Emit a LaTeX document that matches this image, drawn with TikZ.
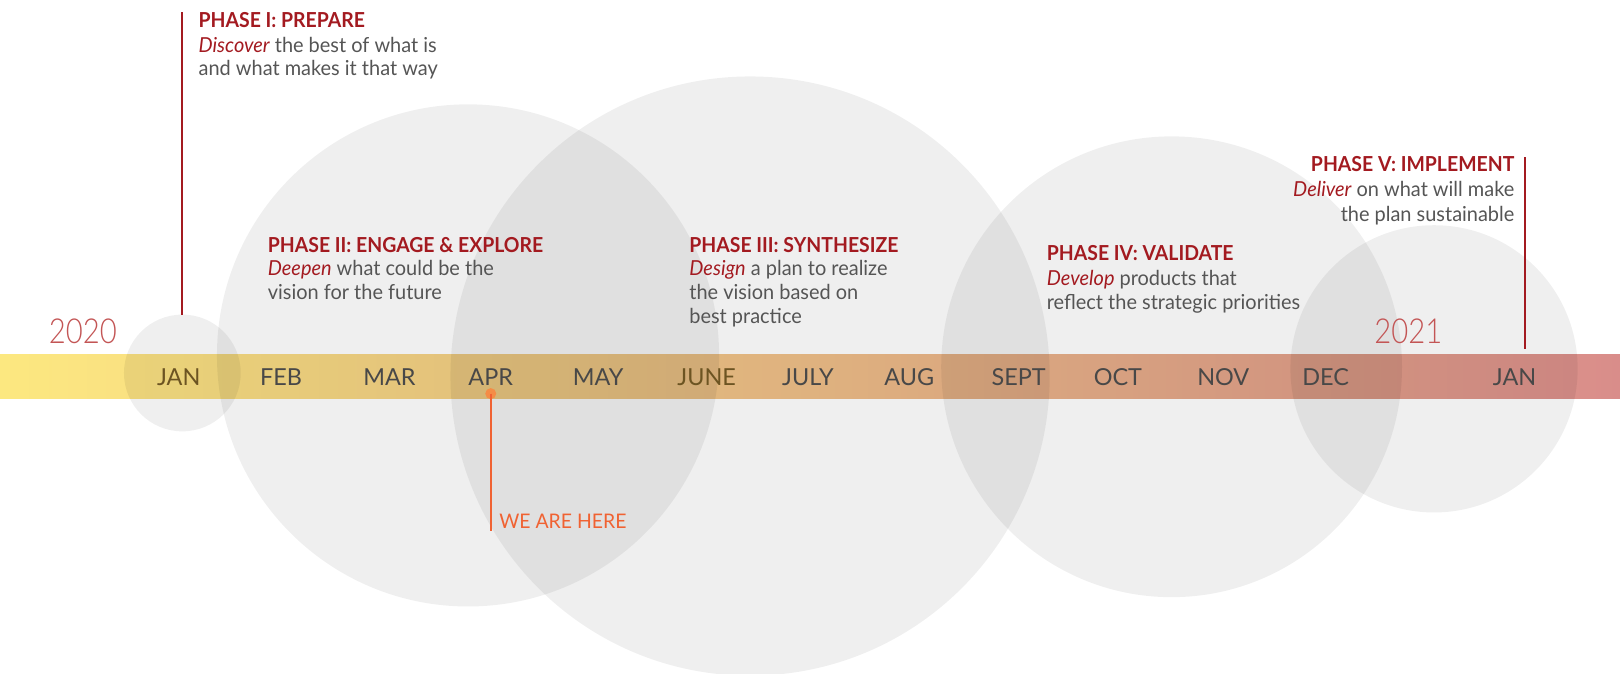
\documentclass[tikz,border=0pt]{standalone}
\usepackage{fontspec}
\setmainfont{Lato}[FakeStretch=0.965]
\newfontfamily\headf{Lato}[FakeStretch=0.94]
\newfontfamily\lightf{Lato Light}[FakeStretch=0.85]
\newfontfamily\monthf{Lato}
\definecolor{phred}{RGB}{163,26,32}
\definecolor{bodygray}{RGB}{85,85,85}
\definecolor{monthgray}{RGB}{72,72,72}
\definecolor{monthbrown}{RGB}{108,84,34}
\definecolor{yearred}{RGB}{195,85,85}
\definecolor{herered}{RGB}{240,98,50}
\definecolor{heredot}{RGB}{245,140,70}
\definecolor{bandA}{RGB}{252,232,128}
\definecolor{bandB}{RGB}{238,190,136}
\definecolor{bandC}{RGB}{217,141,138}
\pgfdeclarehorizontalshading{bandshade}{100bp}{color(0bp)=(bandA); color(25bp)=(bandA); color(50bp)=(bandB); color(75bp)=(bandC); color(100bp)=(bandC)}
\begin{document}
\begin{tikzpicture}[x=0.75pt,y=-0.75pt,
  bubble/.style={fill=black,fill opacity=0.063,draw=none},
  head/.style={anchor=base west,inner sep=0pt,font=\headf\fontsize{15}{18}\selectfont\bfseries,text=phred},
  bodytext/.style={anchor=base west,inner sep=0pt,font=\fontsize{15}{18}\selectfont,text=bodygray},
  headR/.style={head,anchor=base east},
  bodyR/.style={bodytext,anchor=base east},
  month/.style={anchor=base,inner sep=0pt,font=\monthf\fontsize{17}{19}\selectfont,text=monthgray},
  year/.style={anchor=base west,inner sep=0pt,font=\lightf\fontsize{25}{28}\selectfont,text=yearred},
  phline/.style={draw=phred,line width=1.3pt}]
\useasboundingbox (0,0) rectangle (1568,652);
% band
\shade[shading=bandshade] (0,343) rectangle (1568,386);
% bubbles
\fill[bubble] (176.5,361) circle (56.5);
\fill[bubble] (453,344) circle (243);
\fill[bubble] (726,364) circle (290);
\fill[bubble] (1134,355) circle (223);
\fill[bubble] (1388,357) circle (139);
% years
\node[year] (y2020) at (47,332) {2020};
\node[year] (y2021) at (1330,332) {2021};
% months
\node[month,text=monthbrown] (m1) at (173,373) {JAN};
\node[month] (m2) at (272,373) {FEB};
\node[month] (m3) at (377,373) {MAR};
\node[month] (m4) at (475,373) {APR};
\node[month] (m5) at (579,373) {MAY};
\node[month,text=monthbrown] (m6) at (684,373) {JUNE};
\node[month] (m7) at (782,373) {JULY};
\node[month] (m8) at (880,373) {AUG};
\node[month] (m9) at (986,373) {SEPT};
\node[month] (m10) at (1082,373) {OCT};
\node[month] (m11) at (1184,373) {NOV};
\node[month] (m12) at (1283,373) {DEC};
\node[month] (m13) at (1466,373) {JAN};
% phase I
\coordinate (p1top) at (176.5,12);
\coordinate (p1bot) at (176.5,304.5);
\draw[phline] (p1top) -- (p1bot);
\node[head] (h1) at (192,26.5) {PHASE I: PREPARE};
\node[bodytext] (h1a) at (192,50.5) {\textcolor{phred}{\itshape Discover} the best of what is};
\node[bodytext] (h1b) at (192,73.5) {and what makes it that way};
% phase II
\node[head] (h2) at (259,244) {PHASE II: ENGAGE \& EXPLORE};
\node[bodytext] (h2a) at (259,267) {\textcolor{phred}{\itshape Deepen} what could be the};
\node[bodytext] (h2b) at (259,290) {vision for the future};
% phase III
\node[head] (h3) at (667,244) {PHASE III: SYNTHESIZE};
\node[bodytext] (h3a) at (667,267) {\textcolor{phred}{\itshape Design} a plan to realize};
\node[bodytext] (h3b) at (667,290) {the vision based on};
\node[bodytext] (h3c) at (667,313) {best practice};
% phase IV
\node[head] (h4) at (1013,252) {PHASE IV: VALIDATE};
\node[bodytext] (h4a) at (1013,276) {\textcolor{phred}{\itshape Develop} products that};
\node[bodytext] (h4b) at (1013,300) {reflect the strategic priorities};
% phase V
\coordinate (p5top) at (1476,152);
\coordinate (p5bot) at (1476,338);
\draw[phline] (p5top) -- (p5bot);
\node[headR] (h5) at (1466,166) {PHASE V: IMPLEMENT};
\node[bodyR] (h5a) at (1466,190) {\textcolor{phred}{\itshape Deliver} on what will make};
\node[bodyR] (h5b) at (1466,214) {the plan sustainable};
% we are here
\coordinate (herebot) at (475,514);
\node[circle,fill=heredot,inner sep=0pt,minimum size=8pt] (heredotn) at (475,381) {};
\draw[draw=herered,line width=1.5pt] (heredotn.center) -- (herebot);
\node[anchor=base west,inner sep=0pt,font=\fontsize{14.6}{16}\selectfont,text=herered] (here) at (483,511.5) {WE ARE HERE};
\end{tikzpicture}
\end{document}
